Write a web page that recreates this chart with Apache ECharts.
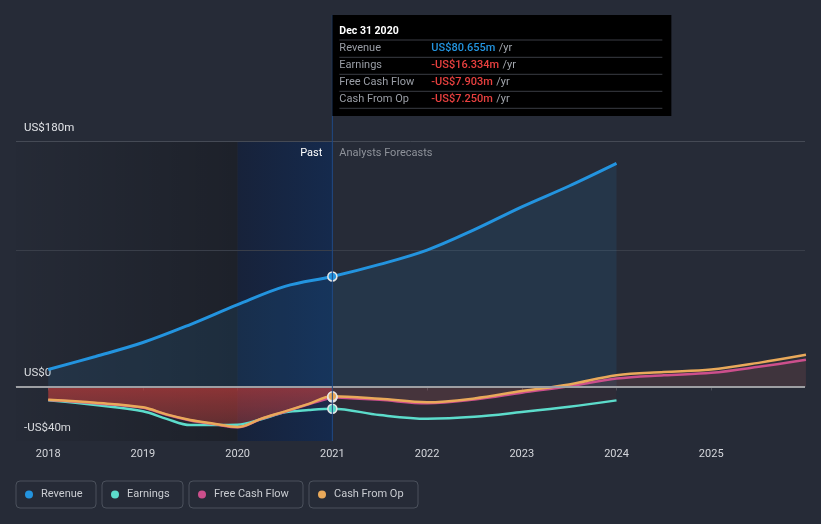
<!DOCTYPE html>
<html>
<head>
<meta charset="utf-8">
<script src="https://cdn.jsdelivr.net/npm/echarts@6/dist/echarts.min.js"></script>
<style>
html,body{margin:0;padding:0;background:#262b37;}
#c{width:821px;height:524px;}
</style>
</head>
<body>
<div id="c"></div>
<script>
// ---- data (values in US$ millions, x in years) ----
const yearTicks = [2018, 2019, 2020, 2021, 2022, 2023, 2024, 2025];
const yLabelValues = [-40, 0, 180];
const gridLineValues = [180, 100];
const pastStart = 2017.66, xEnd = 2025.99, highlightStart = 2020, nowYear = 2021;

const revenueX    = [2018, 2018.5, 2019, 2019.5, 2020, 2020.5, 2021, 2021.5, 2022, 2022.5, 2023, 2023.5, 2024];
const revenueVals = [12.4, 22, 32.2, 45.4, 60, 73.4, 80.655, 89.5, 100, 115, 131.7, 147, 163.6];

const earningsX    = [2018, 2018.5, 2019, 2019.25, 2019.5, 2020, 2020.25, 2020.5, 2020.75, 2021, 2021.5, 2022, 2022.5, 2023, 2023.5, 2024];
const earningsVals = [-10.2, -13.6, -18.2, -23.8, -28.3, -28.0, -24.0, -19.0, -17.3, -16.334, -21.0, -23.7, -22.3, -18.8, -14.9, -10.2];

const fcfPastX    = [2018, 2018.5, 2019, 2019.25, 2019.5, 2019.75, 2020, 2020.25, 2020.5, 2020.75, 2021];
const fcfPastVals = [-10.0, -12.3, -15.6, -20.8, -24.9, -27.6, -30.0, -23.8, -18.5, -13.0, -7.903];
const fcfFcX      = [2021, 2021.5, 2022, 2022.5, 2023, 2023.5, 2024, 2024.5, 2025, 2025.5, 2026];
const fcfFcVals   = [-7.903, -9.8, -12.4, -9.6, -4.6, 0.2, 5.8, 8.2, 10.0, 14.4, 19.6];

const cfoX    = [2018, 2018.5, 2019, 2019.25, 2019.5, 2019.75, 2020, 2020.25, 2020.5, 2020.75, 2021, 2021.5, 2022, 2022.5, 2023, 2023.5, 2024, 2024.5, 2025, 2025.5, 2026];
const cfoVals = [-9.8, -12.0, -15.3, -20.5, -24.6, -27.3, -29.7, -23.6, -18.3, -12.8, -7.25, -9.0, -11.6, -8.8, -3.4, 1.5, 8.3, 10.6, 12.4, 17.3, 23.2];

const C = {
  revenue: '#2394df', earnings: '#5cdccb', fcf: '#cc4f8c', cfo: '#e9a95a',
  bg: '#262b37'
};
const FONT = 'Roboto';

function pts(xs, vs, color) {
  return xs.map((x, i) => x === nowYear
    ? { value: [x, vs[i]], symbol: 'circle', symbolSize: 9,
        itemStyle: { color: color, borderColor: '#e6e6e6', borderWidth: 1.5 } }
    : [x, vs[i]]);
}
function money(v) {
  if (v === 0) return 'US$0';
  return (v < 0 ? '-US$' : 'US$') + Math.abs(v) + 'm';
}
function moneyTip(v) {
  return (v < 0 ? '-US$' : 'US$') + Math.abs(v).toFixed(3) + 'm';
}

const chart = echarts.init(document.getElementById('c'));

function legendFor(name, left, w) {
  return {
    data: [name], left: left, top: 481, orient: 'horizontal',
    padding: [6.5, 12, 6.5, 9], borderColor: '#4b515c', borderWidth: 1, borderRadius: 4,
    itemWidth: 14, itemHeight: 8, icon: 'circle', selectedMode: false,
    textStyle: { color: '#c9ccd1', fontSize: 11, fontFamily: FONT, width: w, lineHeight: 14 }
  };
}

const option = {
  backgroundColor: C.bg,
  animation: false,
  grid: { left: 16, right: 16, top: 141, bottom: 83, containLabel: false },
  legend: [
    legendFor('Revenue', 16, 43),
    legendFor('Earnings', 102, 44),
    legendFor('Free Cash Flow', 189, 77),
    legendFor('Cash From Op', 309, 72)
  ],
  xAxis: {
    type: 'value', min: pastStart, max: xEnd,
    axisLine: { show: true, lineStyle: { color: '#494d57', width: 1 } },
    axisTick: { show: true, length: 4, customValues: yearTicks, lineStyle: { color: '#494d57' } },
    axisLabel: { customValues: yearTicks, color: '#d4d6db', fontSize: 11, fontFamily: FONT, margin: 8,
      formatter: v => String(Math.round(v)) },
    splitLine: { show: false }
  },
  yAxis: {
    type: 'value', min: -40, max: 180,
    axisLine: { show: false }, axisTick: { show: false }, splitLine: { show: false },
    axisLabel: { customValues: yLabelValues, inside: true, margin: 8, verticalAlign: 'bottom',
      lineHeight: 26, color: '#e2e4e8', fontSize: 11.5, fontFamily: FONT, formatter: money }
  },
  series: [
    { // background regions and grid lines
      type: 'line', name: 'bg', data: [], silent: true, z: 1,
      markArea: {
        silent: true, z: 1,
        data: [
          [{ xAxis: pastStart, itemStyle: { color: new echarts.graphic.LinearGradient(0, 0, 1, 0, [
              { offset: 0, color: 'rgba(0,0,0,0.02)' }, { offset: 1, color: 'rgba(0,0,0,0.24)' }]) } },
           { xAxis: highlightStart }],
          [{ xAxis: highlightStart, itemStyle: { color: new echarts.graphic.LinearGradient(0, 0, 1, 0, [
              { offset: 0, color: '#17223a' }, { offset: 1, color: '#152a4d' }]) } },
           { xAxis: nowYear }]
        ]
      },
      markLine: {
        silent: true, z: 1, symbol: ['none', 'none'], label: { show: false },
        data: gridLineValues.map((v, i) => ({ yAxis: v,
          lineStyle: { color: i === 0 ? '#454a55' : '#393e49', width: 1, type: 'solid' } }))
      }
    },
    {
      type: 'line', name: 'Revenue', data: pts(revenueX, revenueVals, C.revenue),
      smooth: 0.35, symbol: 'none', showSymbol: true, z: 2,
      lineStyle: { color: C.revenue, width: 3 }, itemStyle: { color: C.revenue },
      areaStyle: { color: 'rgba(35,148,223,0.15)' }
    },
    {
      type: 'line', name: 'Earnings', data: pts(earningsX, earningsVals, C.earnings),
      smooth: 0.35, symbol: 'none', showSymbol: true, z: 2,
      lineStyle: { color: C.earnings, width: 2.5 }, itemStyle: { color: C.earnings },
      areaStyle: { color: 'rgba(200,50,60,0.08)' }
    },
    {
      type: 'line', name: 'Free Cash Flow', data: pts(fcfPastX, fcfPastVals, C.fcf),
      smooth: 0.35, symbol: 'none', showSymbol: true, z: 2,
      lineStyle: { color: C.fcf, width: 2.5 }, itemStyle: { color: C.fcf },
      areaStyle: { color: new echarts.graphic.LinearGradient(0, 0, 0, 1, [
        { offset: 0, color: 'rgba(212,58,60,0.82)' }, { offset: 1, color: 'rgba(212,58,60,0.42)' }]) }
    },
    {
      type: 'line', name: 'Free Cash Flow', data: pts(fcfFcX, fcfFcVals, C.fcf),
      smooth: 0.35, symbol: 'none', showSymbol: true, z: 2,
      lineStyle: { color: C.fcf, width: 2.5 }, itemStyle: { color: C.fcf },
      areaStyle: { color: 'rgba(200,90,105,0.18)' }
    },
    {
      type: 'line', name: 'Cash From Op', data: pts(cfoX, cfoVals, C.cfo),
      smooth: 0.35, symbol: 'none', showSymbol: true, z: 2,
      lineStyle: { color: C.cfo, width: 2.5 }, itemStyle: { color: C.cfo },
      areaStyle: { color: 'rgba(232,169,90,0.05)' }
    },
    { // zero line
      type: 'line', name: 'zero', data: [], silent: true, z: 3,
      markLine: { silent: true, z: 3, symbol: ['none', 'none'], label: { show: false },
        data: [{ yAxis: 0, lineStyle: { color: '#9d9fa3', width: 2, type: 'solid' } }] }
    }
  ]
};
chart.setOption(option);

// ---- static hover state: cursor line, Past / Forecast labels, tooltip ----
const nowX = chart.convertToPixel({ xAxisIndex: 0 }, nowYear);
const yTop = chart.convertToPixel({ yAxisIndex: 0 }, 180);
const yBottom = chart.convertToPixel({ yAxisIndex: 0 }, -40);
const idxNow = (xs) => xs.indexOf(nowYear);
const rows = [
  { label: 'Revenue', v: revenueVals[idxNow(revenueX)] },
  { label: 'Earnings', v: earningsVals[idxNow(earningsX)] },
  { label: 'Free Cash Flow', v: fcfPastVals[idxNow(fcfPastX)] },
  { label: 'Cash From Op', v: cfoVals[idxNow(cfoX)] }
];
const tipTop = 15, tipW = 339, tipH = 101;
const graphics = [
  { type: 'line', silent: true, z: 4,
    shape: { x1: nowX, y1: tipTop, x2: nowX, y2: yBottom },
    style: { stroke: '#1f4a86', lineWidth: 1 } },
  { type: 'text', silent: true, z: 5, x: nowX - 10, y: yTop + 12,
    style: { text: 'Past', fill: '#ffffff', font: '11px ' + FONT, align: 'right', verticalAlign: 'middle' } },
  { type: 'text', silent: true, z: 5, x: nowX + 7, y: yTop + 12,
    style: { text: 'Analysts Forecasts', fill: '#8e929a', font: '11px ' + FONT, align: 'left', verticalAlign: 'middle' } },
  { type: 'rect', silent: true, z: 10, shape: { x: nowX, y: tipTop, width: tipW, height: tipH },
    style: { fill: '#000000' } },
  { type: 'text', silent: true, z: 11, x: nowX + 7, y: tipTop + 16,
    style: { text: 'Dec 31 2020', fill: '#ffffff', font: 'bold 10.5px ' + FONT, verticalAlign: 'middle' } }
];
const sepYs = [25, 42.3, 59.3, 76.3, 93.3];
sepYs.forEach(dy => graphics.push({ type: 'line', silent: true, z: 11,
  shape: { x1: nowX + 7, y1: tipTop + dy, x2: nowX + 330, y2: tipTop + dy },
  style: { stroke: '#3a3d44', lineWidth: 1 } }));
rows.forEach((r, i) => {
  const cy = tipTop + 33.5 + i * 17;
  graphics.push({ type: 'text', silent: true, z: 11, x: nowX + 7, y: cy,
    style: { text: r.label, fill: '#9a9ea6', font: '11px ' + FONT, verticalAlign: 'middle' } });
  graphics.push({ type: 'text', silent: true, z: 11, x: nowX + 99, y: cy,
    style: { text: '{v|' + moneyTip(r.v) + '} {u|/yr}', verticalAlign: 'middle',
      rich: {
        v: { fill: r.v < 0 ? '#e8403f' : C.revenue, font: '500 11px ' + FONT },
        u: { fill: '#a3a7ae', font: '11px ' + FONT }
      } } });
});
chart.setOption({ graphic: graphics });
</script>
</body>
</html>
